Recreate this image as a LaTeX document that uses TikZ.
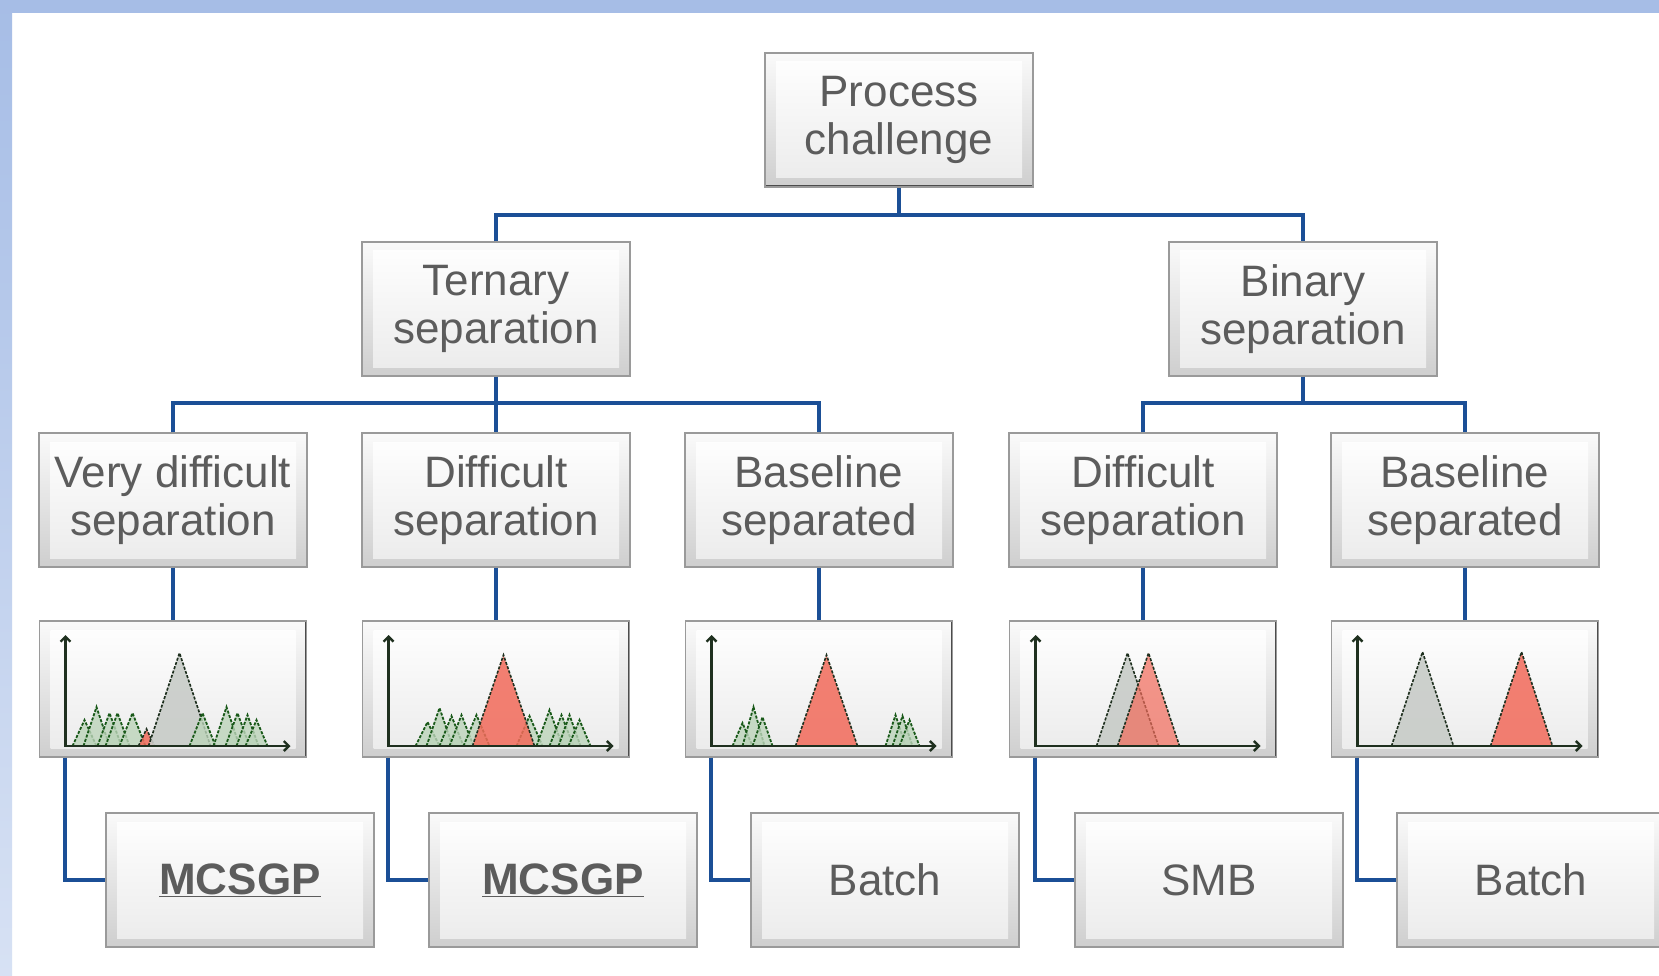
\documentclass[tikz,border=0pt]{standalone}
\usepackage{fontspec}
\setmainfont{Liberation Sans}
\usetikzlibrary{arrows.meta,calc}
\definecolor{bandblue}{HTML}{A6BDE6}
\definecolor{conncol}{HTML}{1B4F96}
\definecolor{txtgray}{HTML}{5C5C5C}
\definecolor{boxedge}{HTML}{9A9A9A}
\definecolor{redpk}{HTML}{F26A5A}
\definecolor{graypk}{HTML}{C8CCC8}
\definecolor{greenpk}{HTML}{BCD4BA}
\definecolor{pkline}{HTML}{1F301F}
\tikzset{
  bevel/.style={rectangle, minimum width=268pt, minimum height=134pt, inner sep=0pt,
    draw=boxedge, line width=1.2pt, top color=white!96!gray, bottom color=gray!38,
    text=txtgray, font=\fontsize{44}{48}\selectfont, align=center,
    path picture={
      \shade[top color=white, bottom color=gray!16]
        ($(path picture bounding box.south west)+(11pt,9pt)$) rectangle
        ($(path picture bounding box.north east)+(-11pt,-9pt)$);
      \draw[gray!60!black, line width=3pt]
        (path picture bounding box.south west) -- (path picture bounding box.south east)
        -- (path picture bounding box.north east);
    }},
  chartbox/.style={bevel, minimum height=136pt, minimum width=267pt},
  conn/.style={draw=conncol, line width=4pt},
  gpeakst/.style={fill=greenpk, fill opacity=0.8, draw=pkline!80!green, line width=1.8pt, dash pattern=on 3pt off 1.5pt},
  rpeakst/.style={fill=redpk, fill opacity=0.85, draw=pkline, line width=1.6pt, dash pattern=on 3pt off 1.5pt},
  kpeakst/.style={fill=graypk, fill opacity=0.9, draw=pkline, line width=1.6pt, dash pattern=on 3pt off 1.5pt},
  axisst/.style={draw=pkline, line width=2.4pt, {Straight Barb[length=5pt,width=10pt]}-{Straight Barb[length=5pt,width=10pt]}},
}
\newcommand{\gpk}[3]{\path[gpeakst] ({#1-#3-2},125) -- (#1,{125-#2}) -- ({#1+#3+2},125);}
\newcommand{\bigpk}[3]{\path[#3] ({#1-31},125) -- (#1,#2) -- ({#1+31},125);}
\newcommand{\chartaxes}{\draw[axisst] (26,14) -- (26,125) -- (251,125);}
\begin{document}
\begin{tikzpicture}[x=1pt,y=-1pt]
\useasboundingbox (0,0) rectangle (1659,976);
\fill[white] (0,0) rectangle (1659,976);
\fill[bandblue] (0,0) rectangle (1659,13);
\shade[top color=bandblue, bottom color=bandblue!45] (0,0) rectangle (12,976);

% boxes
\node[bevel] (pc) at (899,120) {Process\\challenge};
\node[bevel] (ter) at (496,309) {Ternary\\separation};
\node[bevel] (bin) at (1303,309) {Binary\\separation};
\node[bevel] (vd) at (173,500) {Very difficult\\separation};
\node[bevel] (d1) at (496,500) {Difficult\\separation};
\node[bevel] (bl1) at (819,500) {Baseline\\separated};
\node[bevel] (d2) at (1143,500) {Difficult\\separation};
\node[bevel] (bl2) at (1465,500) {Baseline\\separated};
\node[chartbox] (c1) at (173,689) {};
\node[chartbox] (c2) at (496,689) {};
\node[chartbox] (c3) at (819,689) {};
\node[chartbox] (c4) at (1143,689) {};
\node[chartbox] (c5) at (1465,689) {};
\node[bevel] (b1) at (240,880) {\bfseries\underline{MCSGP}};
\node[bevel] (b2) at (563,880) {\bfseries\underline{MCSGP}};
\node[bevel] (b3) at (885,880) {Batch};
\node[bevel] (b4) at (1209,880) {SMB};
\node[bevel] (b5) at (1531,880) {Batch};

% connectors
\coordinate (j1) at (899,215);
\coordinate (j2) at (496,403);
\coordinate (j3) at (1303,403);
\draw[conn] (pc.south) -- (j1);
\draw[conn] (ter.north) |- (j1) -| (bin.north);
\draw[conn] (ter.south) -- (d1.north);
\draw[conn] (vd.north) |- (j2) -| (bl1.north);
\draw[conn] (bin.south) -- (j3);
\draw[conn] (d2.north) |- (j3) -| (bl2.north);
\foreach \r/\c in {vd/c1, d1/c2, bl1/c3, d2/c4, bl2/c5}
  \draw[conn] (\r.south) -- (\c.north);
\foreach \c/\b in {c1/b1, c2/b2, c3/b3, c4/b4, c5/b5}
  \draw[conn] ([xshift=26pt]\c.south west) |- (\b.west);

% chart 1
\begin{scope}[shift={(39.5,621)}]
  \gpk{45}{26}{10}\gpk{57}{39}{11}\gpk{70}{33}{10}\gpk{78}{33}{10}\gpk{93}{33}{11}
  \path[rpeakst] (99,125) -- (107,108) -- (115,125);
  \bigpk{140}{32}{kpeakst}
  \gpk{163}{33}{11}\gpk{187}{39}{11}\gpk{198}{33}{10}\gpk{208}{31}{9}\gpk{217}{26}{9}
  \chartaxes
\end{scope}
% chart 2
\begin{scope}[shift={(362.5,621)}]
  \gpk{65}{24}{10}\gpk{77}{38}{11}\gpk{89}{30}{10}\gpk{99}{31}{10}\gpk{114}{31}{11}
  \gpk{167}{30}{11}\gpk{187}{36}{11}\gpk{199}{31}{10}\gpk{207}{31}{9}\gpk{217}{26}{9}
  \bigpk{141}{34}{rpeakst}
  \chartaxes
\end{scope}
% chart 3
\begin{scope}[shift={(685.5,621)}]
  \gpk{57}{23}{8}\gpk{68}{39}{9}\gpk{77}{29}{8}
  \gpk{210}{31}{8}\gpk{217}{30}{8}\gpk{224}{26}{8}
  \bigpk{141}{34}{rpeakst}
  \chartaxes
\end{scope}
% chart 4
\begin{scope}[shift={(1009.5,621)}]
  \bigpk{118}{32}{kpeakst}
  \path[rpeakst, fill opacity=0.7] (108,125) -- (139,32) -- (170,125);
  \chartaxes
\end{scope}
% chart 5
\begin{scope}[shift={(1331.5,621)}]
  \bigpk{91}{31}{kpeakst}
  \bigpk{190}{31}{rpeakst}
  \chartaxes
\end{scope}
\end{tikzpicture}
\end{document}
